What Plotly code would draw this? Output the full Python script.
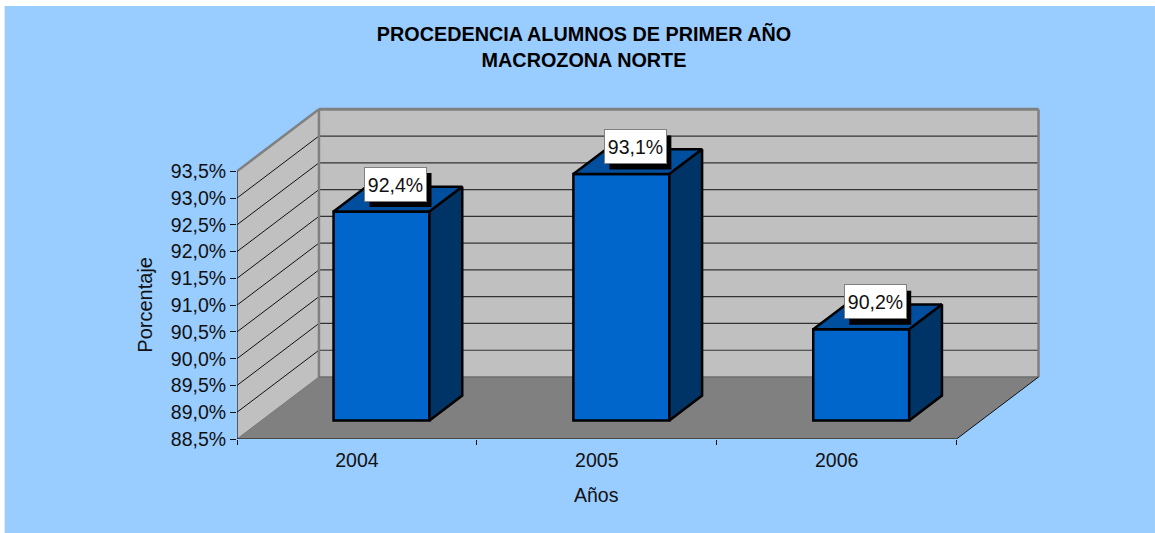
import plotly.graph_objects as go

years = ["2004", "2005", "2006"]
values = [92.4, 93.1, 90.2]
y_ticks = [88.5, 89.0, 89.5, 90.0, 90.5, 91.0, 91.5, 92.0, 92.5, 93.0, 93.5]
title_lines = ["PROCEDENCIA ALUMNOS DE PRIMER AÑO", "MACROZONA NORTE"]
x_title = "Años"
y_title = "Porcentaje"

# Pseudo-3D projection, in axis units
PX_X, PX_Y = 240.0, 53.55
L, R, T, B = 236.5, 1050.0, 100.0, 439.0
W, H = 1155, 533
DX, DY = 82.0 / PX_X, 62.0 / PX_Y
Y0, Y1 = y_ticks[0], y_ticks[-1]
NC = len(years)
BAR_W, FRONT, DEPTH = 0.4, 0.3, 0.4

BLUE, WALL, FLOOR, EDGE = "#99ccff", "#c0c0c0", "#808080", "#808080"
FACE, TOP, SIDE = "#0066cc", "#004f9e", "#003366"
FONT = "Liberation Sans, Arial, sans-serif"

lab = lambda v: f"{v:.1f}%".replace(".", ",")


def poly(pts, fill, color=None, width=0):
    path = "M" + " L".join(f"{x},{y}" for x, y in pts) + " Z"
    return dict(type="path", path=path, fillcolor=fill, layer="below", xref="x", yref="y",
                line=dict(color=color or fill, width=width))


def seg(a, b, color, width):
    return dict(type="line", x0=a[0], y0=a[1], x1=b[0], y1=b[1], xref="x", yref="y",
                layer="below", line=dict(color=color, width=width))


shapes = [
    dict(type="rect", xref="paper", yref="paper", layer="below", fillcolor=BLUE, line_width=0,
         x0=(4 - L) / (R - L), x1=(W - L) / (R - L),
         y0=(B - H) / (B - T), y1=(B - 6) / (B - T)),
    poly([(0, Y0), (DX, Y0 + DY), (DX, Y1 + DY), (0, Y1)], WALL),
    poly([(DX, Y0 + DY), (NC + DX, Y0 + DY), (NC + DX, Y1 + DY), (DX, Y1 + DY)], WALL),
    poly([(0, Y0), (NC, Y0), (NC + DX, Y0 + DY), (DX, Y0 + DY)], FLOOR),
]
for t in y_ticks[1:-1]:
    shapes.append(seg((0, t), (DX, t + DY), "#111111", 1))
    shapes.append(seg((DX, t + DY), (NC + DX, t + DY), "#333333", 1.2))
shapes += [
    seg((DX, Y1 + DY), (NC + DX, Y1 + DY), EDGE, 3),
    seg((0, Y1), (DX, Y1 + DY), EDGE, 2.5),
    seg((DX, Y0 + DY), (DX, Y1 + DY), EDGE, 2.5),
    seg((NC + DX, Y0 + DY), (NC + DX, Y1 + DY), EDGE, 2.5),
    seg((0, Y0), (DX, Y0 + DY), "#777777", 1),
    seg((DX, Y0 + DY), (NC + DX, Y0 + DY), "#6e6e6e", 1.5),
    seg((NC, Y0), (NC + DX, Y0 + DY), "#111111", 1),
]

centers = [i + 0.5 + FRONT * DX for i in range(NC)]
base = Y0 + FRONT * DY
tops = [v + FRONT * DY for v in values]

fig = go.Figure()
fig.add_trace(go.Bar(x=centers, y=[v - Y0 for v in values], base=base, width=BAR_W,
                     marker=dict(color=FACE, line=dict(color="black", width=2.5)),
                     showlegend=False, hoverinfo="skip"))

ddx, ddy = DEPTH * DX, DEPTH * DY
for c, top in zip(centers, tops):
    xl, xr = c - BAR_W / 2, c + BAR_W / 2
    fig.add_trace(go.Scatter(x=[xl, xr, xr + ddx, xl + ddx, xl], y=[top, top, top + ddy, top + ddy, top],
                             mode="lines", fill="toself", fillcolor=TOP,
                             line=dict(color="black", width=2.5), showlegend=False, hoverinfo="skip"))
    fig.add_trace(go.Scatter(x=[xr, xr + ddx, xr + ddx, xr, xr], y=[base, base + ddy, top + ddy, top, base],
                             mode="lines", fill="toself", fillcolor=SIDE,
                             line=dict(color="black", width=2.5), showlegend=False, hoverinfo="skip"))

# Visible part of the two axes
fig.add_trace(go.Scatter(x=[0, NC], y=[Y0, Y0], mode="lines", line=dict(color="#111111", width=1.2),
                         cliponaxis=False, showlegend=False, hoverinfo="skip"))
fig.add_trace(go.Scatter(x=[0, 0], y=[Y0, Y1], mode="lines", line=dict(color="#111111", width=1.2),
                         cliponaxis=False, showlegend=False, hoverinfo="skip"))

annotations = []
for c, top, v in zip(centers, tops, values):
    shapes.append(dict(type="rect", xref="x", yref="y", xsizemode="pixel", ysizemode="pixel",
                       xanchor=c, yanchor=top, x0=-12, x1=50, y0=4.5, y1=38.5,
                       fillcolor="black", line_width=0, layer="above"))
    annotations.append(dict(x=c, y=top, xref="x", yref="y", text=lab(v), showarrow=False,
                            xshift=14, yshift=27.5, width=61, height=33, align="center",
                            xanchor="center", yanchor="middle", bgcolor="white",
                            bordercolor="#808080", borderwidth=1, borderpad=0,
                            font=dict(family=FONT, size=19.5, color="#111111")))

# Axis titles sit on the centre of the visible axes, not of the whole plot area
annotations.append(dict(x=NC / 2, xref="x", y=Y0, yref="y", yshift=439 - 495, text=x_title,
                        showarrow=False, xanchor="center", yanchor="middle",
                        font=dict(family=FONT, size=19.5, color="#111111")))
annotations.append(dict(x=0, xref="x", xshift=145 - L, y=(Y0 + Y1) / 2, yref="y", text=y_title,
                        textangle=-90, showarrow=False, xanchor="center", yanchor="middle",
                        font=dict(family=FONT, size=20, color="#111111")))

fig.update_layout(
    width=W, height=H, autosize=False, barmode="overlay",
    margin=dict(l=L, r=W - R, t=T, b=H - B, pad=0),
    paper_bgcolor="white", plot_bgcolor="rgba(0,0,0,0)", showlegend=False,
    shapes=shapes, annotations=annotations,
    font=dict(family=FONT, color="#111111"),
    title=dict(text=f"<b><span style='font-size:19.8px'>{title_lines[0]}<br>{title_lines[1]}</span></b>",
               x=584 / W, xanchor="center", xref="container", y=1 - 41 / H, yanchor="middle",
               yref="container", font=dict(family=FONT, size=20, color="black")),
    xaxis=dict(range=[0, (R - L) / PX_X], tickmode="array", tickvals=[i + 0.5 for i in range(NC)],
               ticktext=years, ticks="outside", ticklen=4, tickcolor="rgba(0,0,0,0)",
               tickfont=dict(family=FONT, size=19.5, color="#111111"), showgrid=False, zeroline=False,
               showline=False, fixedrange=True,
               minor=dict(tickmode="array", tickvals=list(range(NC + 1)), ticks="outside", ticklen=5,
                          tickcolor="#111111", tickwidth=1, showgrid=False)),
    yaxis=dict(range=[Y0, Y0 + (B - T) / PX_Y], tickmode="array", tickvals=y_ticks,
               ticktext=[lab(t) for t in y_ticks], ticks="outside", ticklen=6, tickcolor="#111111",
               tickwidth=1, tickfont=dict(family=FONT, size=19.5, color="#111111"), showgrid=False,
               zeroline=False, showline=False, fixedrange=True),
)

fig.write_html("out.html", config={"displayModeBar": False},
               post_script="document.body.style.margin='0';")
